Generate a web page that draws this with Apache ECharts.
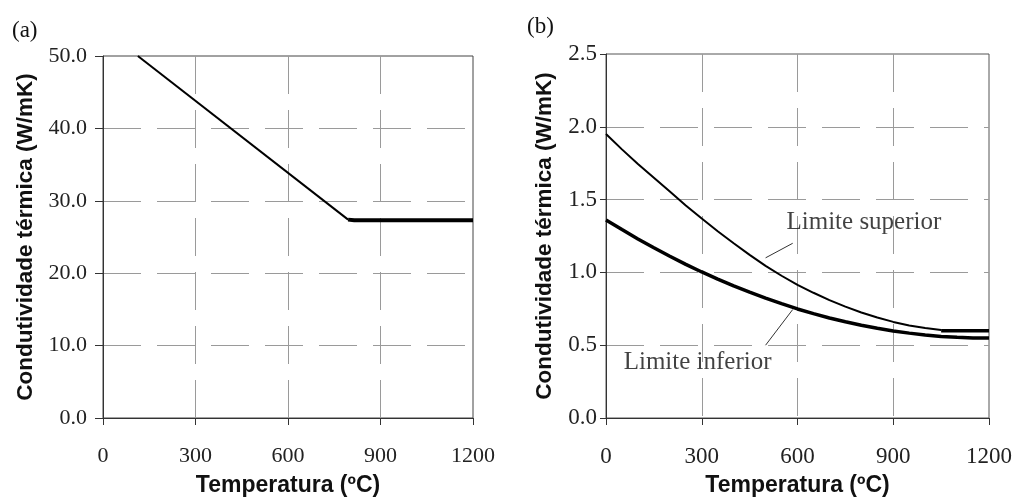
<!DOCTYPE html>
<html>
<head>
<meta charset="utf-8">
<script src="https://cdn.jsdelivr.net/npm/echarts@6/dist/echarts.min.js"></script>
<style>
html,body{margin:0;padding:0;background:#fff;}
#c{width:1018px;height:502px;}
</style>
</head>
<body>
<div id="c"></div>
<script>
// Panel (a): steel thermal conductivity
var steelSlopeT = [113, 795];
var steelSlopeK = [50.0, 27.4];
var steelFlatT = [795, 815, 1200];
var steelFlatK = [27.4, 27.3, 27.3];

// Panel (b): concrete thermal conductivity
var upperT = [0, 50, 100, 150, 200, 250, 300, 350, 400, 450, 500, 550, 600, 650, 700, 750, 800, 850, 900, 950, 1000, 1050];
var upperK = [1.95, 1.845, 1.745, 1.65, 1.555, 1.46, 1.37, 1.283, 1.2, 1.12, 1.045, 0.977, 0.915, 0.86, 0.81, 0.765, 0.725, 0.69, 0.66, 0.636, 0.618, 0.605];
var upperFlatT = [1050, 1200];
var upperFlatK = [0.60, 0.60];
var lowerT = [0, 50, 100, 150, 200, 250, 300, 350, 400, 450, 500, 550, 600, 650, 700, 750, 800, 850, 900, 950, 1000, 1050, 1100, 1150, 1200];
var lowerK = [1.36, 1.294, 1.23, 1.169, 1.111, 1.055, 1.003, 0.954, 0.907, 0.864, 0.823, 0.785, 0.749, 0.717, 0.687, 0.661, 0.637, 0.616, 0.598, 0.583, 0.57, 0.56, 0.554, 0.55, 0.549];

// Annotations (data units)
var annotText = ['Limite superior', 'Limite inferior'];
var annotPos = [[808, 1.34], [287, 0.38]];
var leaderLines = [[[500, 1.10], [585, 1.20]], [[500, 0.50], [585, 0.745]]];

var xTicks = [0, 300, 600, 900, 1200];
var panelLabels = ['(a)', '(b)'];
var xTitle = 'Temperatura (ºC)';
var yTitle = 'Condutividade térmica (W/mK)';

function zip(a, b) { return a.map(function (v, i) { return [v, b[i]]; }); }

var serif = 'Liberation Serif';
var sans = 'Liberation Sans';
var gridDash = [38, 16];

function xAxisCfg(gi, fs) {
  return {
    gridIndex: gi, type: 'value', min: xTicks[0], max: xTicks[xTicks.length - 1], interval: 300,
    axisLine: { show: true, lineStyle: { color: '#333', width: 1 } },
    axisTick: { show: true, inside: false, length: 7, lineStyle: { color: '#333' } },
    axisLabel: { fontFamily: serif, fontSize: fs, color: '#222', margin: 27,
      formatter: function (v) { return String(v); } },
    splitLine: { show: true, showMaxLine: false, showMinLine: false, lineStyle: { color: '#9a9a9a', width: 1, type: gridDash } },
    name: xTitle, nameLocation: 'middle', nameGap: 56,
    nameTextStyle: { fontFamily: sans, fontWeight: 'bold', fontSize: 23, color: '#111' }
  };
}
function yAxisCfg(gi, max, interval, margin, nameGap, tickLen, fs) {
  return {
    gridIndex: gi, type: 'value', min: 0, max: max, interval: interval,
    axisLine: { show: true, lineStyle: { color: '#333', width: 1 } },
    axisTick: { show: true, inside: false, length: tickLen, lineStyle: { color: '#333' } },
    axisLabel: { fontFamily: serif, fontSize: fs, color: '#222', margin: margin,
      formatter: function (v) { return v.toFixed(1); } },
    splitLine: { show: true, showMaxLine: false, showMinLine: false, lineStyle: { color: '#9a9a9a', width: 1, type: gridDash } },
    name: yTitle, nameLocation: 'middle', nameGap: nameGap, nameRotate: 90,
    nameTextStyle: { fontFamily: sans, fontWeight: 'bold', fontSize: 22.5, color: '#111' }
  };
}

var chart = echarts.init(document.getElementById('c'), null, { renderer: 'canvas' });
chart.setOption({
  backgroundColor: '#fff',
  animation: false,
  title: [
    { text: panelLabels[0], left: 7, top: 14, textStyle: { fontFamily: serif, fontSize: 23, fontWeight: 'normal', color: '#111' } },
    { text: panelLabels[1], left: 522, top: 10, textStyle: { fontFamily: serif, fontSize: 23, fontWeight: 'normal', color: '#111' } }
  ],
  grid: [
    { left: 103, top: 56, width: 370, height: 368, show: true, borderColor: '#444', borderWidth: 1, backgroundColor: 'transparent' },
    { left: 606, top: 54, width: 383, height: 369, show: true, borderColor: '#555', borderWidth: 1, backgroundColor: 'transparent' }
  ],
  xAxis: [xAxisCfg(0, 22), xAxisCfg(1, 23)],
  yAxis: [yAxisCfg(0, 50, 10, 16, 66, 8, 22), yAxisCfg(1, 2.5, 0.5, 9, 50, 6, 23)],
  series: [
    { type: 'line', xAxisIndex: 0, yAxisIndex: 0, data: zip(steelSlopeT, steelSlopeK), showSymbol: false, symbol: 'none',
      lineStyle: { color: '#000', width: 2 } },
    { type: 'line', xAxisIndex: 0, yAxisIndex: 0, data: zip(steelFlatT, steelFlatK), showSymbol: false, symbol: 'none',
      lineStyle: { color: '#000', width: 4 } },
    { type: 'line', xAxisIndex: 1, yAxisIndex: 1, data: zip(upperT, upperK), showSymbol: false, symbol: 'none',
      lineStyle: { color: '#000', width: 2 },
      markLine: { silent: true, symbol: ['none', 'none'], label: { show: false },
        lineStyle: { color: '#333', width: 1, type: 'solid' },
        data: leaderLines.map(function (l) { return [{ coord: l[0] }, { coord: l[1] }]; }) } },
    { type: 'line', xAxisIndex: 1, yAxisIndex: 1, data: zip(upperFlatT, upperFlatK), showSymbol: false, symbol: 'none',
      lineStyle: { color: '#000', width: 3.5 } },
    { type: 'line', xAxisIndex: 1, yAxisIndex: 1, data: zip(lowerT, lowerK), showSymbol: false, symbol: 'none',
      lineStyle: { color: '#000', width: 3.5 } },
    { type: 'scatter', xAxisIndex: 1, yAxisIndex: 1, symbolSize: 0, silent: true,
      data: annotPos.map(function (p, i) { return [p[0], p[1], annotText[i]]; }),
      label: { show: true, position: 'inside', formatter: function (p) { return p.value[2]; },
        fontFamily: serif, fontSize: 25, color: '#111' } }
  ]
});
</script>
</body>
</html>
